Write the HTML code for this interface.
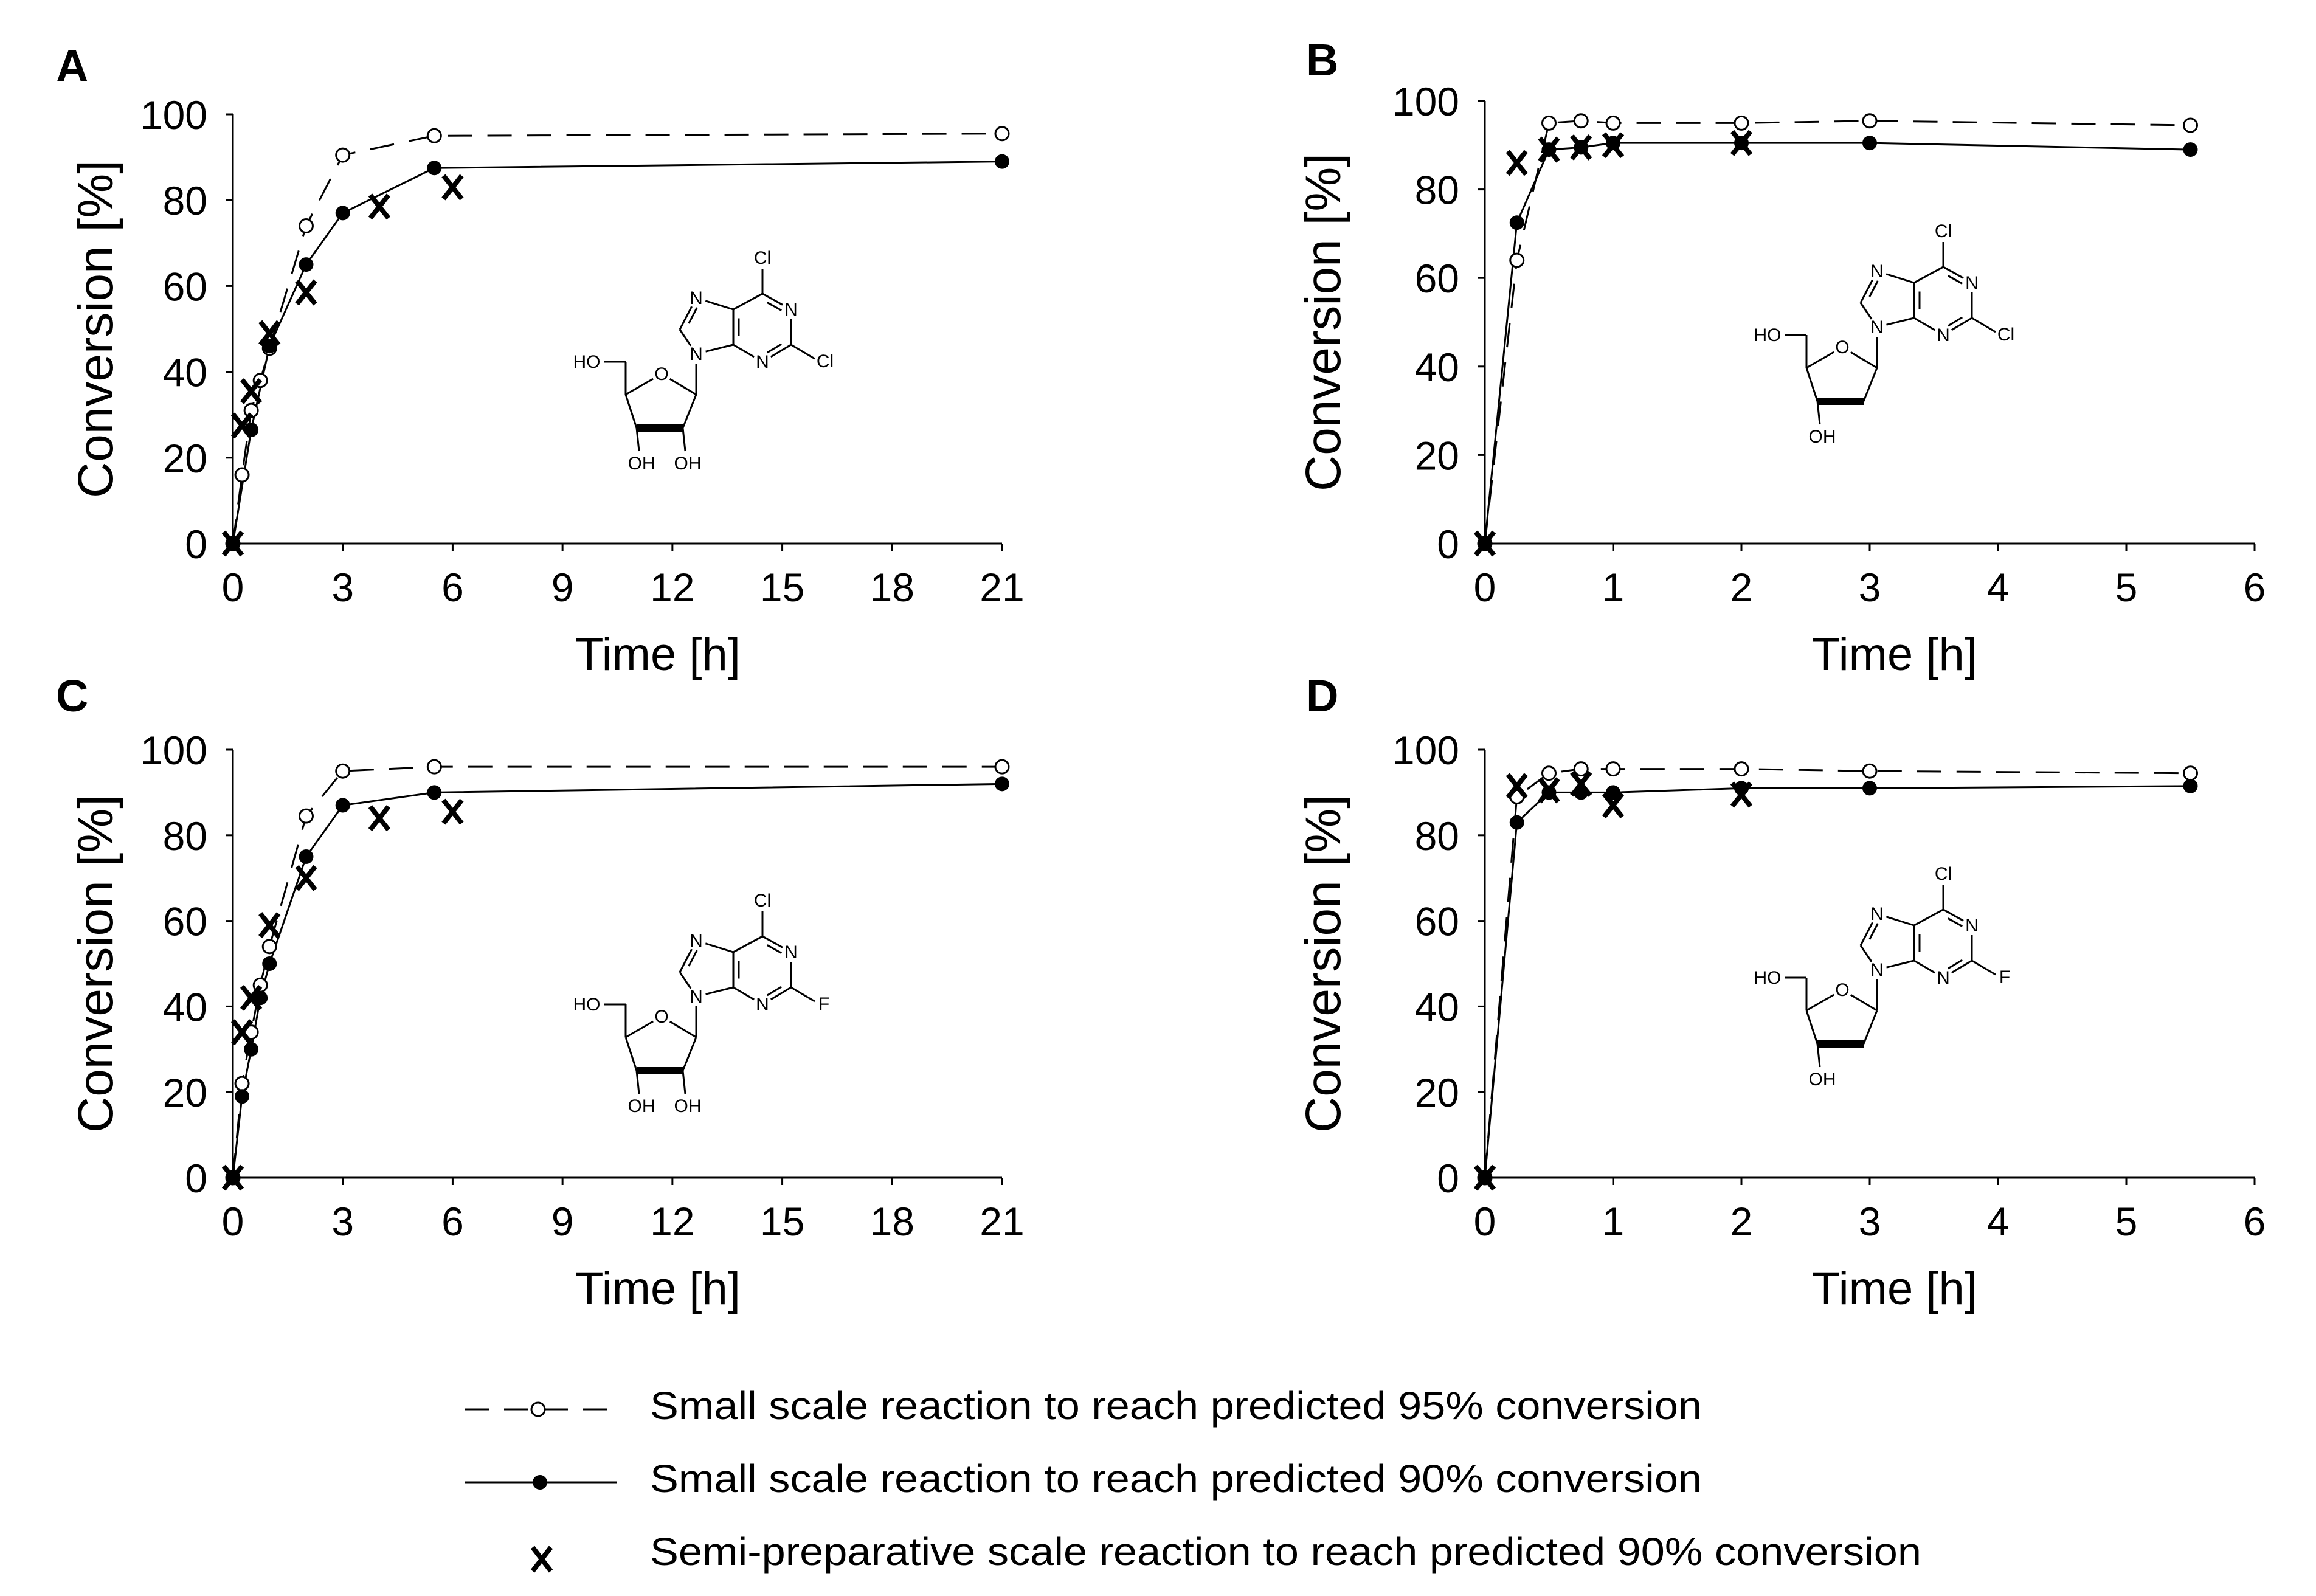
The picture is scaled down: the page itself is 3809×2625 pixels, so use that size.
<!DOCTYPE html>
<html><head><meta charset="utf-8"><style>
html,body{margin:0;padding:0;background:#fff;}
svg{display:block;font-family:"Liberation Sans",Arial,sans-serif;}
</style></head><body>
<svg id="fig" width="3809" height="2625" viewBox="0 0 3809 2625" xmlns="http://www.w3.org/2000/svg">
<rect width="3809" height="2625" fill="#fff"/>
<g id="legend">
  <g>
    <line x1="764" y1="2318" x2="1001" y2="2318" stroke="#000" stroke-width="3" stroke-dasharray="40,25"/>
    <circle cx="885" cy="2318" r="11" fill="#fff" stroke="#000" stroke-width="3"/>
    <text x="1069" y="2334" font-size="64" textLength="1730" lengthAdjust="spacingAndGlyphs">Small scale reaction to reach predicted 95% conversion</text>
  </g>
  <g>
    <line x1="764" y1="2438" x2="1015" y2="2438" stroke="#000" stroke-width="3"/>
    <circle cx="888" cy="2438" r="12" fill="#000"/>
    <text x="1069" y="2454" font-size="64" textLength="1730" lengthAdjust="spacingAndGlyphs">Small scale reaction to reach predicted 90% conversion</text>
  </g>
  <g>
    <path d="M876 2545 L906 2584 M906 2545 L876 2584" stroke="#000" stroke-width="8"/>
    <text x="1069" y="2574" font-size="64" textLength="2091" lengthAdjust="spacingAndGlyphs">Semi-preparative scale reaction to reach predicted 90% conversion</text>
  </g>
</g>
</svg>
<script>
// Panel A data (2,6-dichloropurine riboside)
const tA95 = [0,0.25,0.5,0.75,1,2,3,5.5,21];
const vA95 = [0,16,31,38,45.5,74,90.5,95,95.5];
const tA90 = [0,0.5,1,2,3,5.5,21];
const vA90 = [0,26.5,46,65,77,87.5,89];
const tAX = [0,0.25,0.5,1,2,4,6];
const vAX = [0,27.5,35.5,49,58.5,78.5,83];
// Panel B data
const tB95 = [0,0.25,0.5,0.75,1,2,3,5.5];
const vB95 = [0,64,95,95.5,95,95,95.5,94.5];
const tB90 = [0,0.25,0.5,0.75,1,2,3,5.5];
const vB90 = [0,72.5,89,89.5,90.5,90.5,90.5,89];
const tBX = [0,0.25,0.5,0.75,1,2];
const vBX = [0,86,89,89.5,90,90.5];
// Panel C data
const tC95 = [0,0.25,0.5,0.75,1,2,3,5.5,21];
const vC95 = [0,22,34,45,54,84.5,95,96,96];
const tC90 = [0,0.25,0.5,0.75,1,2,3,5.5,21];
const vC90 = [0,19,30,42,50,75,87,90,92];
const tCX = [0,0.25,0.5,1,2,4,6];
const vCX = [0,34,42,59,70,84,85.5];
// Panel D data
const tD95 = [0,0.25,0.5,0.75,1,2,3,5.5];
const vD95 = [0,89,94.5,95.5,95.5,95.5,95,94.5];
const tD90 = [0,0.25,0.5,0.75,1,2,3,5.5];
const vD90 = [0,83,90,90,90,91,91,91.5];
const tDX = [0,0.25,0.5,0.75,1,2];
const vDX = [0,91.5,90.5,92,87,89.5];
// Tick labels
const xTicksLong = [0,3,6,9,12,15,18,21];
const xTicksShort = [0,1,2,3,4,5,6];
const yTicks = [0,20,40,60,80,100];

const NS = "http://www.w3.org/2000/svg";
const svg = document.getElementById('fig');
function mk(tag, attrs, parent){
  const e = document.createElementNS(NS, tag);
  for (const k in attrs) e.setAttribute(k, attrs[k]);
  (parent||svg).appendChild(e);
  return e;
}

function molecule(parent, ox, oy, halogen2, deoxy){
  const g = mk('g', {transform:`translate(${ox},${oy})`, stroke:'#000', 'stroke-width':3, fill:'none'}, parent);
  
  
  const P = {C6:[109,-99],N1:[156,-73],C2:[156,-15],N3:[109,13],C4:[61,-15],C5:[61,-73],N7:[0,-92],C8:[-27,-40],N9:[0,0],
    C1:[0,67],O4:[-57,33],C4p:[-116,67],C3:[-98,122],C2p:[-22,122],C5p:[-116,13]};
  const labeled = {N1:1,N3:1,N7:1,N9:1,O4:1};
  const bonds = [['C6','N1'],['N1','C2'],['C2','N3'],['N3','C4'],['C4','C5'],['C5','C6'],['C5','N7'],['N7','C8'],['C8','N9'],['N9','C4'],['N9','C1'],['C1','O4'],['O4','C4p'],['C4p','C3'],['C2p','C1'],['C4p','C5p']];
  const seg = (a,b,fa,fb)=>{const A=P[a],B=P[b];return [A[0]+(B[0]-A[0])*fa,A[1]+(B[1]-A[1])*fa,B[0]+(A[0]-B[0])*fb,B[1]+(A[1]-B[1])*fb];};
  bonds.forEach(b=>{
    const L = Math.hypot(P[b[0]][0]-P[b[1]][0], P[b[0]][1]-P[b[1]][1]);
    const fa = labeled[b[0]] ? 16/L : 0, fb = labeled[b[1]] ? 16/L : 0;
    const s=seg(b[0],b[1],fa,fb);
    mk('line',{x1:s[0],y1:s[1],x2:s[2],y2:s[3]},g);
  });
  // double bonds (inner)
  [['C4','C5',9,0],['C6','N1',-4,8],['C2','N3',-4,-8],['N7','C8',8,3]].forEach(b=>{const s=seg(b[0],b[1],0.25,0.25);mk('line',{x1:s[0]+b[2],y1:s[1]+b[3],x2:s[2]+b[2],y2:s[3]+b[3]},g);});
  mk('line',{x1:109,y1:-99,x2:109,y2:-140},g);
  mk('line',{x1:156,y1:-15,x2:195,y2:8},g);
  mk('line',{x1:-116,y1:13,x2:-152,y2:13},g);
  mk('path',{d:'M-98 122 L-22 122',stroke:'#000','stroke-width':12},g);
  mk('line',{x1:-98,y1:122,x2:-94,y2:160},g);
  if(!deoxy) mk('line',{x1:-22,y1:122,x2:-18,y2:160},g);
  const t = (x,y,s)=>{const e=mk('text',{x:x,y:y,'font-size':30,stroke:'none',fill:'#000','text-anchor':'middle'},g);e.textContent=s;};
  t(109,-148,'Cl'); t(0,10,'N'); t(0,-82,'N'); t(156,-63,'N'); t(109,23,'N'); t(-57,43,'O');
  t(halogen2==='F'?210:212,22,halogen2); t(-180,23,'HO'); t(-90,190,'OH'); if(!deoxy) t(-14,190,'OH');
}

function panel(cfg){
  const g = mk('g', {});
  
  
  const sx = v => cfg.x0 + (v - 0) * (cfg.x1 - cfg.x0) / cfg.xmax;
  const sy = v => cfg.y0 + v * (cfg.y100 - cfg.y0) / 100;
  const letter = mk('text', {x:cfg.lx, y:cfg.ly, 'font-size':74, 'font-weight':'bold'}, g);
  
  
  letter.textContent = cfg.letter;
  // axes
  const ya = mk('line', {x1:sx(0), y1:sy(0), x2:sx(0), y2:sy(100), stroke:'#000', 'stroke-width':3}, g);
  
  
  const xa = mk('line', {x1:sx(0), y1:sy(0), x2:sx(cfg.xmax), y2:sy(0), stroke:'#000', 'stroke-width':3}, g);
  
  
  yTicks.forEach(v=>{
    mk('line',{x1:sx(0)-12,y1:sy(v),x2:sx(0),y2:sy(v),stroke:'#000','stroke-width':3},g);
    const t = mk('text',{x:sx(0)-42,y:sy(v)+24,'font-size':66,'text-anchor':'end'},g);
    
    
    t.textContent = v;
  });
  cfg.xticks.forEach(v=>{
    mk('line',{x1:sx(v),y1:sy(0),x2:sx(v),y2:sy(0)+12,stroke:'#000','stroke-width':3},g);
    const t = mk('text',{x:sx(v),y:sy(0)+95,'font-size':66,'text-anchor':'middle'},g);
    
    
    t.textContent = v;
  });
  const xt = mk('text',{x:cfg.xtx,y:sy(0)+208,'font-size':76,'text-anchor':'middle'},g);
  
  
  xt.textContent = 'Time [h]';
  const cy = (sy(0)+sy(100))/2;
  const yt = mk('text',{x:0,y:0,'font-size':82,'text-anchor':'middle',transform:`translate(${cfg.ytx},${cy}) rotate(-90)`},g);
  
  
  yt.textContent = 'Conversion [%]';
  molecule(g, cfg.mx, cfg.my, cfg.hal, cfg.deoxy);
  const p95 = cfg.t95.map((t,i)=>sx(t)+','+sy(cfg.v95[i])).join(' ');
  const l95 = mk('polyline',{points:p95,fill:'none',stroke:'#000','stroke-width':3,'stroke-dasharray':'40,25'},g);
  
  
  const p90 = cfg.t90.map((t,i)=>sx(t)+','+sy(cfg.v90[i])).join(' ');
  const l90 = mk('polyline',{points:p90,fill:'none',stroke:'#000','stroke-width':3},g);
  
  
  cfg.t95.forEach((t,i)=>{
    const c = mk('circle',{cx:sx(t),cy:sy(cfg.v95[i]),r:11,fill:'#fff',stroke:'#000','stroke-width':3},g);
    
    
  });
  cfg.t90.forEach((t,i)=>{
    const c = mk('circle',{cx:sx(t),cy:sy(cfg.v90[i]),r:12,fill:'#000'},g);
    
    
  });
  cfg.tX.forEach((t,i)=>{
    const x = sx(t), y = sy(cfg.vX[i]);
    const c = mk('path',{d:`M${x-15} ${y-19} L${x+15} ${y+19} M${x+15} ${y-19} L${x-15} ${y+19}`,stroke:'#000','stroke-width':8},g);
    
    
  });
}

panel({letter:'A',lx:92,ly:134,x0:383,x1:1648,xmax:21,y0:894,y100:188,xticks:xTicksLong,xtx:1082,ytx:185,
  mx:1145,my:582,hal:'Cl',deoxy:false,t95:tA95,v95:vA95,t90:tA90,v90:vA90,tX:tAX,vX:vAX});
panel({letter:'B',lx:2148,ly:124,x0:2442,x1:3708,xmax:6,y0:894,y100:166,xticks:xTicksShort,xtx:3116,ytx:2204,
  mx:3087,my:538,hal:'Cl',deoxy:true,t95:tB95,v95:vB95,t90:tB90,v90:vB90,tX:tBX,vX:vBX});
panel({letter:'C',lx:92,ly:1170,x0:383,x1:1648,xmax:21,y0:1937,y100:1233,xticks:xTicksLong,xtx:1082,ytx:185,
  mx:1145,my:1639,hal:'F',deoxy:false,t95:tC95,v95:vC95,t90:tC90,v90:vC90,tX:tCX,vX:vCX});
panel({letter:'D',lx:2148,ly:1170,x0:2442,x1:3708,xmax:6,y0:1937,y100:1233,xticks:xTicksShort,xtx:3116,ytx:2204,
  mx:3087,my:1595,hal:'F',deoxy:true,t95:tD95,v95:vD95,t90:tD90,v90:vD90,tX:tDX,vX:vDX});
</script>
</body></html>
